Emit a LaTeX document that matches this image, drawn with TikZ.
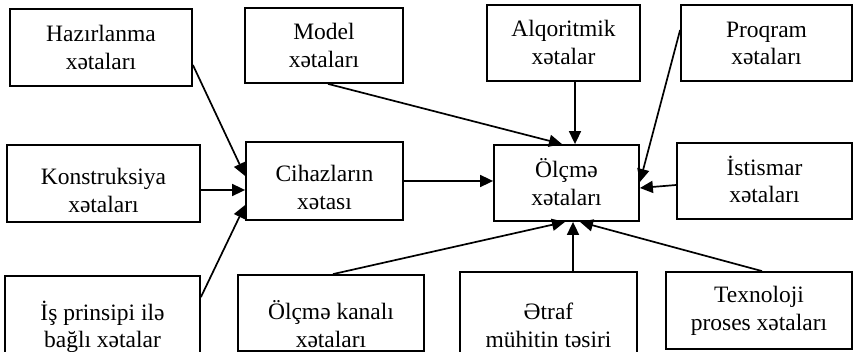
\documentclass[tikz,border=0pt]{standalone}
\usepackage{fontspec}
\setmainfont{Liberation Serif}
\usetikzlibrary{arrows.meta}
\begin{document}
\begin{tikzpicture}[x=1pt,y=-1pt,
  box/.style={draw,line width=1.8pt,inner sep=0pt},
  txt/.style={font=\fontsize{23.5}{27.5}\selectfont,align=center,inner sep=0pt},
  arr/.style={line width=1.7pt,-{Triangle[length=13pt,width=12pt]}}]
\useasboundingbox (0,0) rectangle (854,352);
\clip (0,0) rectangle (854,352);
\fill[white] (0,0) rectangle (854,352);
% boxes
\node[box,minimum width=182pt,minimum height=77pt] (haz) at (101,47.5) {};
\node[box,minimum width=158pt,minimum height=75pt] (model) at (324,45.5) {};
\node[box,minimum width=153pt,minimum height=76pt] (alq) at (563.5,43) {};
\node[box,minimum width=171pt,minimum height=76pt] (proq) at (766.5,43) {};
\node[box,minimum width=193pt,minimum height=77pt] (kons) at (103.5,183.5) {};
\node[box,minimum width=157pt,minimum height=78pt] (cih) at (324.5,181) {};
\node[box,minimum width=145pt,minimum height=76pt] (olc) at (566.5,183) {};
\node[box,minimum width=175pt,minimum height=76pt] (ist) at (764.5,181) {};
\node[box,minimum width=195pt,minimum height=94pt] (is) at (102.5,323) {};
\node[box,minimum width=186pt,minimum height=76pt] (kan) at (331,313) {};
\node[box,minimum width=177pt,minimum height=98pt] (etr) at (548.5,321) {};
\node[box,minimum width=186pt,minimum height=77pt] (tex) at (759,310.5) {};
% texts
\node[txt] (hazt) at (101,50.25) {\strut Hazırlanma\\\strut xətaları};
\node[txt] (modelt) at (324,48.25) {\strut Model\\\strut xətaları};
\node[txt] (alqt) at (563.5,45.25) {\strut Alqoritmik\\\strut xətalar};
\node[txt] (proqt) at (766.5,45.75) {\strut Proqram\\\strut xətaları};
\node[txt] (konst) at (103.5,193.25) {\strut Konstruksiya\\\strut xətaları};
\node[txt] (ciht) at (324.5,190.25) {\strut Cihazların\\\strut xətası};
\node[txt] (olct) at (566.5,186.25) {\strut Ölçmə\\\strut xətaları};
\node[txt] (istt) at (764.5,183.25) {\strut İstismar\\\strut xətaları};
\node[txt] (ist2) at (102.5,328.25) {\strut İş prinsipi ilə\\\strut bağlı xətalar};
\node[txt] (kant) at (331,328.25) {\strut Ölçmə kanalı\\\strut xətaları};
\node[txt] (etrt) at (548.5,328.25) {\strut Ətraf\\\strut mühitin təsiri};
\node[txt] (text) at (759,311.25) {\strut Texnoloji\\\strut proses xətaları};
% connectors
\draw[arr] ([yshift=-17.5pt]haz.east) -- ([yshift=5pt]cih.west);
\draw[arr] ([yshift=-6.5pt]kons.east) -- ([yshift=-6.5pt]kons.east -| cih.west);
\draw[arr] ([yshift=-22pt]is.north east) -- ([yshift=-24pt]cih.west);
\draw[arr] (cih.east) -- (cih.east -| olc.west);
\draw[arr] ([xshift=4pt]model.south) -- ([xshift=-4.5pt]olc.north);
\draw[arr] ([xshift=8.5pt]olc.north |- alq.south) -- ([xshift=8.5pt]olc.north);
\draw[arr] ([yshift=13pt]proq.west) -- ([yshift=1pt]olc.east);
\draw[arr] ([yshift=-4pt]ist.west) -- ([yshift=-5pt]olc.east);
\draw[arr] ([xshift=2pt]kan.north) -- ([xshift=-1.5pt]olc.south);
\draw[arr] ([xshift=6.5pt]olc.south |- etr.north) -- ([xshift=6.5pt]olc.south);
\draw[arr] ([xshift=3pt]tex.north) -- ([xshift=13.5pt]olc.south);
\end{tikzpicture}
\end{document}
